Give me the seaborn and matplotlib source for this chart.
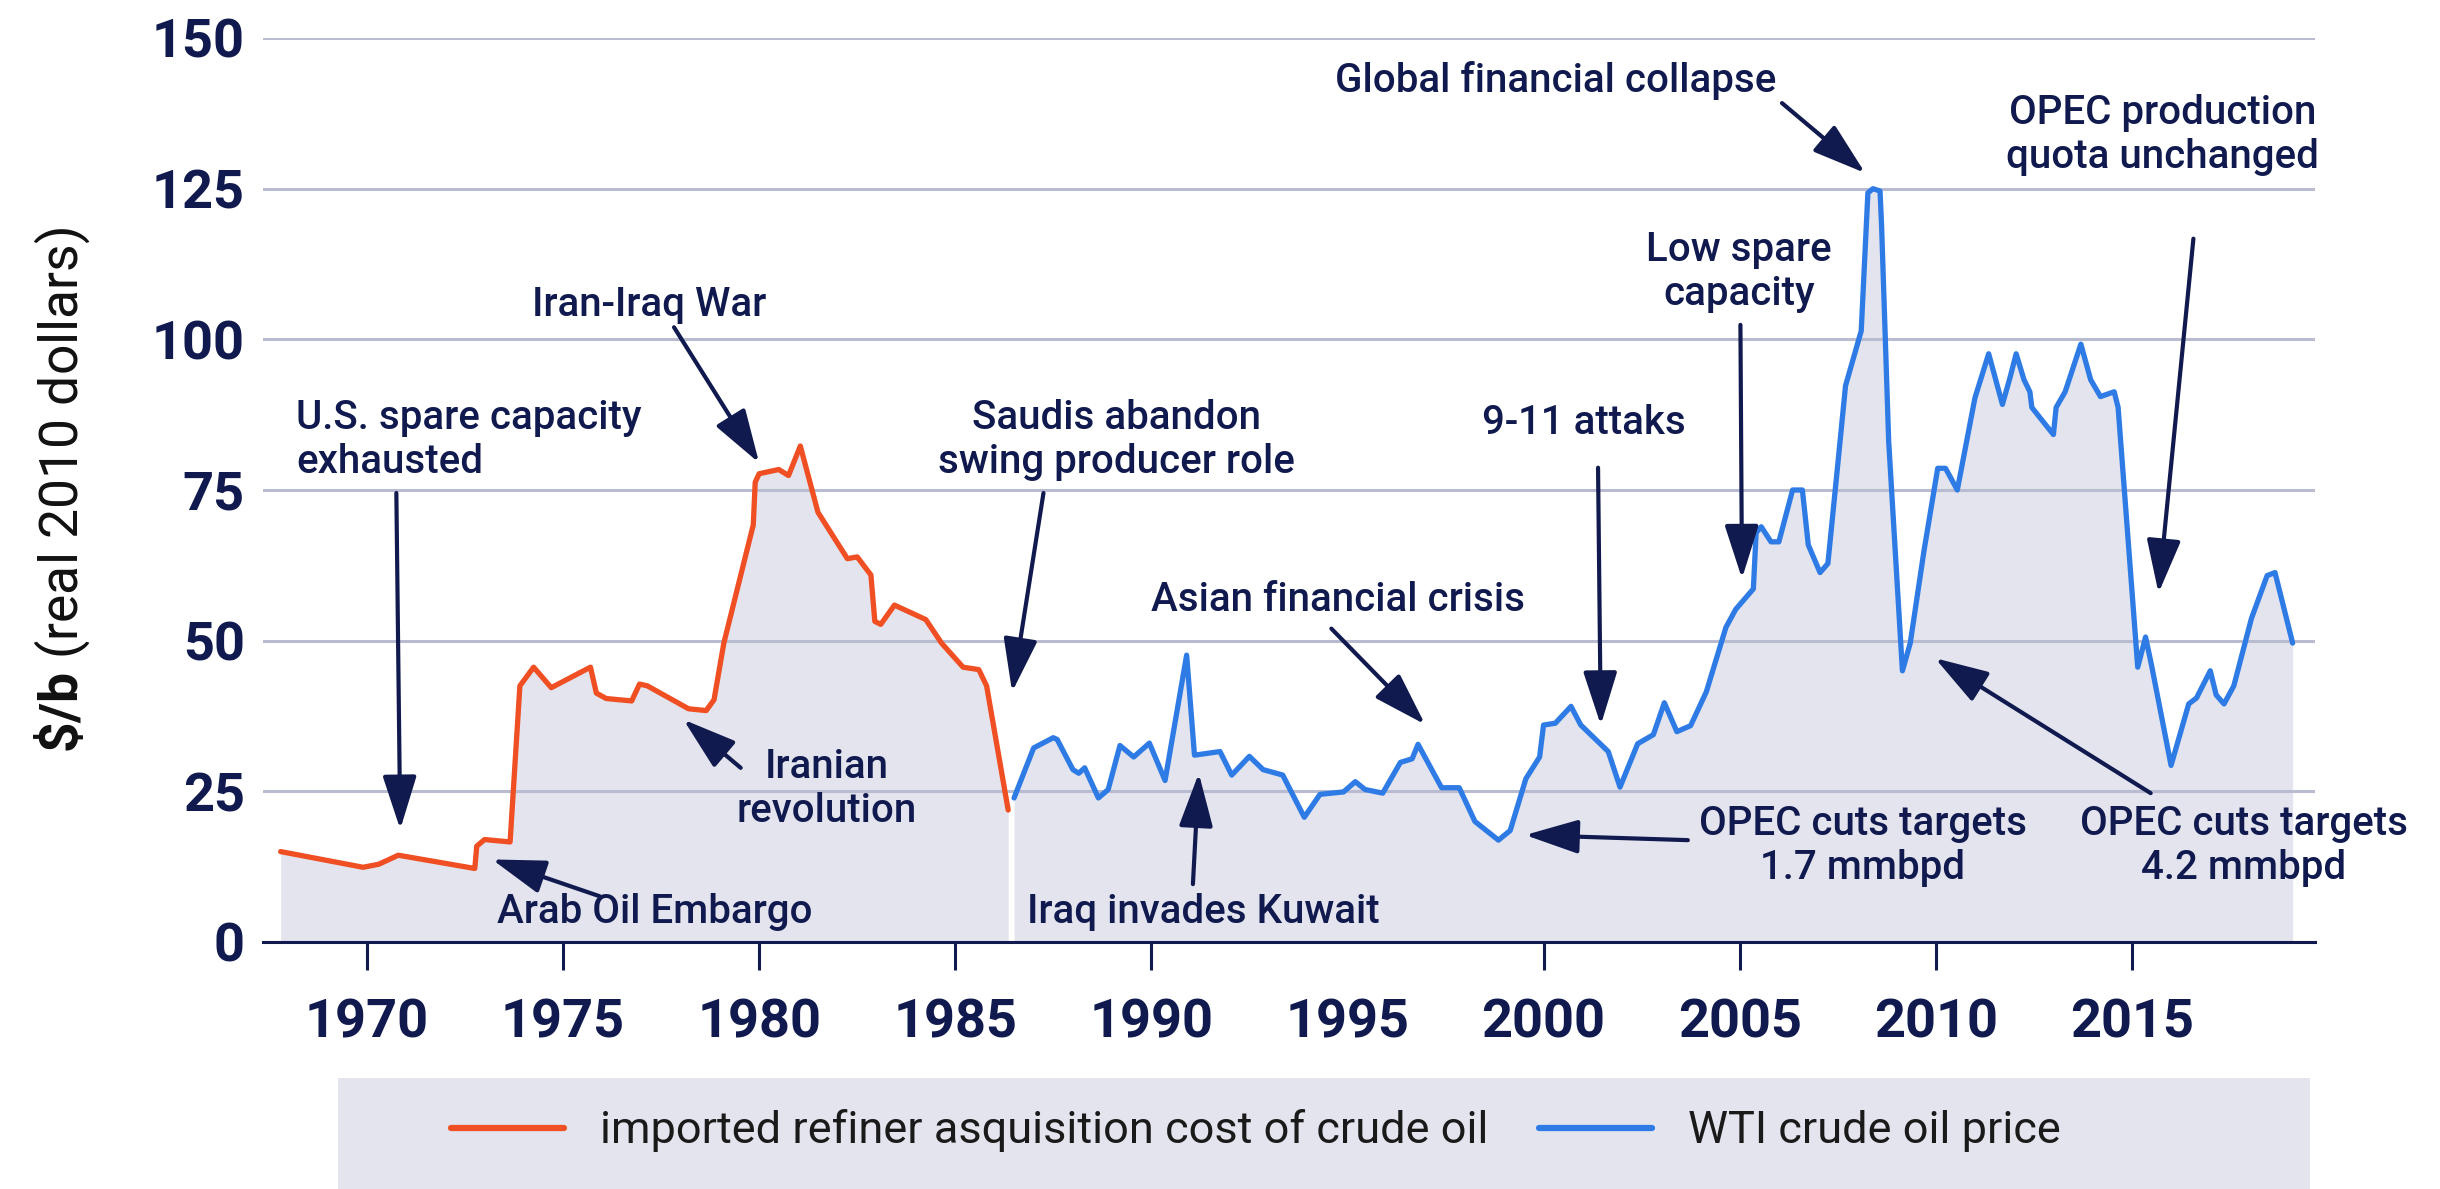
import pandas as pd
import matplotlib.pyplot as plt
import matplotlib.patches as mpatches
import seaborn as sns

# values
orange_years = [1967.8, 1969.9, 1970.3, 1970.8, 1972.75, 1972.8, 1973.0, 1973.65, 1973.9, 1974.25,
                1974.7, 1975.7, 1975.85, 1976.1, 1976.75, 1976.95, 1977.15, 1978.2, 1978.65, 1978.85,
                1979.1, 1979.85, 1979.9, 1980.0, 1980.5, 1980.75, 1981.05, 1981.5, 1982.25, 1982.5,
                1982.85, 1982.95, 1983.1, 1983.45, 1984.25, 1984.65, 1985.2, 1985.6, 1985.8, 1986.35]
orange_vals = [15.0, 12.4, 12.9, 14.4, 12.2, 15.9, 17.0, 16.6, 42.5, 45.6,
               42.2, 45.6, 41.3, 40.4, 40.0, 42.8, 42.5, 38.7, 38.4, 40.2,
               49.6, 69.2, 76.3, 77.7, 78.4, 77.4, 82.3, 71.3, 63.6, 63.9,
               60.9, 53.2, 52.7, 55.9, 53.5, 49.6, 45.6, 45.2, 42.5, 21.9]

wti_years = [1986.5, 1986.8, 1987.0, 1987.5, 1987.6, 1988.0, 1988.15, 1988.3, 1988.65, 1988.9,
             1989.2, 1989.55, 1989.95, 1990.35, 1990.9, 1991.1, 1991.75, 1992.05, 1992.5, 1992.85,
             1993.35, 1993.9, 1994.3, 1994.9, 1995.2, 1995.45, 1995.9, 1996.35, 1996.65, 1996.8,
             1997.4, 1997.85, 1998.25, 1998.85, 1999.15, 1999.55, 1999.9, 2000.0, 2000.3, 2000.7,
             2000.95, 2001.65, 2001.95, 2002.4, 2002.8, 2003.08, 2003.4, 2003.75, 2004.15, 2004.65,
             2004.9, 2005.35, 2005.42, 2005.55, 2005.8, 2006.0, 2006.35, 2006.6, 2006.75, 2007.05,
             2007.25, 2007.5, 2007.7, 2008.1, 2008.27, 2008.4, 2008.58, 2008.62, 2008.8, 2009.15,
             2009.35, 2009.7, 2010.05, 2010.25, 2010.55, 2011.0, 2011.35, 2011.5, 2011.7, 2011.9,
             2012.05, 2012.25, 2012.4, 2012.45, 2013.0, 2013.07, 2013.3, 2013.7, 2013.95, 2014.2,
             2014.55, 2014.65, 2015.15, 2015.35, 2015.5, 2016.0, 2016.45, 2016.65, 2017.0, 2017.15,
             2017.35, 2017.6, 2018.05, 2018.45, 2018.65, 2019.1]
wti_vals = [23.9, 28.9, 32.2, 33.9, 33.6, 28.6, 28.0, 28.9, 23.9, 25.3,
            32.6, 30.7, 33.0, 26.8, 47.6, 31.0, 31.6, 27.7, 30.8, 28.6,
            27.7, 20.7, 24.5, 24.9, 26.6, 25.3, 24.7, 29.8, 30.4, 32.8,
            25.6, 25.6, 20.0, 16.9, 18.5, 27.1, 30.7, 36.0, 36.3, 39.1,
            36.0, 31.6, 25.7, 32.9, 34.4, 39.7, 34.9, 35.9, 41.5, 52.2,
            55.2, 58.6, 67.9, 68.9, 66.4, 66.4, 75.0, 75.0, 65.9, 61.3,
            62.8, 79.1, 92.3, 101.4, 124.3, 125.0, 124.6, 118.7, 83.1, 45.0,
            49.6, 64.9, 78.6, 78.6, 75.0, 90.3, 97.6, 94.0, 89.2, 93.8,
            97.6, 93.3, 91.3, 88.7, 84.2, 88.7, 91.3, 99.2, 93.3, 90.5,
            91.3, 88.7, 45.6, 50.6, 46.0, 29.3, 39.5, 40.5, 45.0, 41.0,
            39.5, 42.5, 53.7, 60.8, 61.3, 49.6]

year_ticks = [1970, 1975, 1980, 1985, 1990, 1995, 2000, 2005, 2010, 2015]
price_ticks = [0, 25, 50, 75, 100, 125, 150]

orange_label = "imported refiner asquisition cost of crude oil"
wti_label = "WTI crude oil price"

NAVY = "#111a4f"
ORANGE = "#f04e23"
BLUE = "#2e7be6"
FILL = "#e3e4ed"
GRID = "#b9bcd0"

sns.set_theme(style="white")
plt.rcParams["font.family"] = ["Roboto", "DejaVu Sans"]
plt.rcParams["mathtext.fontset"] = "custom"
plt.rcParams["mathtext.bf"] = "Roboto:bold"
plt.rcParams["mathtext.rm"] = "Roboto"

W, H = 2440, 1189
fig = plt.figure(figsize=(W / 100, H / 100), dpi=100)
ax = fig.add_axes([263 / W, 1 - 942 / H, (2315 - 263) / W, (942 - 38) / H])

oil = pd.DataFrame({"year": orange_years, "price": orange_vals})
wti = pd.DataFrame({"year": wti_years, "price": wti_vals})

ax.fill_between(oil["year"], oil["price"], color=FILL, lw=0, zorder=0.2)
ax.fill_between(wti["year"], wti["price"], color=FILL, lw=0, zorder=0.2)
sns.lineplot(data=oil, x="year", y="price", ax=ax, color=ORANGE, lw=3.8,
             label=orange_label, estimator=None, sort=False, zorder=3,
             solid_joinstyle="round", solid_capstyle="round")
sns.lineplot(data=wti, x="year", y="price", ax=ax, color=BLUE, lw=3.8,
             label=wti_label, estimator=None, sort=False, zorder=3,
             solid_joinstyle="round", solid_capstyle="round")

ax.set_xlim(1967.35, 2019.67)
ax.set_ylim(0, 150)
ax.set_xticks(year_ticks)
ax.set_yticks(price_ticks)
ax.set_xlabel("")
ax.set_ylabel("")
ax.set_axisbelow(False)
ax.yaxis.grid(True, color=GRID, lw=2.2, zorder=1)
ax.xaxis.grid(False)
for s in ["left", "top", "right"]:
    ax.spines[s].set_visible(False)
ax.spines["bottom"].set_color(NAVY)
ax.spines["bottom"].set_linewidth(2.2)
ax.spines["bottom"].set_zorder(4)

ax.tick_params(axis="x", length=20, width=2.2, color=NAVY, pad=20, labelsize=39, labelcolor=NAVY, bottom=True)
ax.tick_params(axis="y", length=0, pad=13, labelsize=39, labelcolor=NAVY)
for lbl in ax.get_xticklabels() + ax.get_yticklabels():
    lbl.set_fontweight("bold")
ax.xaxis.get_major_ticks()[5].tick1line.set_visible(False)

fig.text(62 / W, 1 - 490 / H, r"$\mathbf{\$/b}$ (real 2010 dollars)", rotation=90,
         ha="center", va="center", fontsize=38.5, color="#111111")

# event notes: text position, arrow tail, arrow head (data units)
notes = [
    ("U.S. spare capacity\nexhausted", (1968.2, 83.3), "left", (1970.75, 74.5), (1970.85, 18.7)),
    ("Iran-Iraq War", (1977.19, 105.7), "center", (1977.83, 102.0), (1980.0, 79.5)),
    ("Saudis abandon\nswing producer role", (1989.12, 83.3), "center", (1987.25, 74.5), (1986.45, 41.5)),
    ("Asian financial crisis", (1994.75, 56.7), "center", (1994.59, 52.0), (1996.98, 36.1)),
    ("9-11 attaks", (2001.02, 86.1), "center", (2001.39, 78.7), (2001.46, 36.0)),
    ("OPEC cuts targets\n1.7 mmbpd", (2008.14, 15.9), "center", (2003.68, 16.9), (1999.53, 17.75)),
    ("Low spare\ncapacity", (2004.99, 111.1), "center", (2005.02, 102.4), (2005.06, 60.3)),
    ("Global financial collapse", (2000.32, 142.9), "center", (2006.08, 139.2), (2008.20, 127.6)),
    ("OPEC production\nquota unchanged", (2015.78, 133.9), "center", (2016.57, 116.7), (2015.68, 57.9)),
    ("OPEC cuts targets\n4.2 mmbpd", (2017.86, 15.9), "center", (2015.48, 24.7), (2009.98, 47.1)),
    ("Iranian\nrevolution", (1981.72, 25.4), "center", (1979.53, 28.9), (1978.07, 36.9)),
    ("Arab Oil Embargo", (1977.34, 4.9), "center", (1975.93, 7.6), (1973.19, 13.7)),
    ("Iraq invades Kuwait", (1991.32, 4.9), "center", (1991.06, 9.6), (1991.21, 28.0)),
]
for text, pos, ha, tail, head in notes:
    ax.text(pos[0], pos[1], text, ha=ha, va="center", multialignment=ha, fontsize=29,
            fontweight="medium", color=NAVY, zorder=5, clip_on=False)
    ax.annotate("", xy=head, xytext=tail, zorder=5,
                arrowprops=dict(arrowstyle="-|>,head_length=1.1,head_width=0.35", color=NAVY,
                                lw=3, mutation_scale=30, shrinkA=0, shrinkB=0))

# legend band at the bottom
handles, labels = ax.get_legend_handles_labels()
ax.get_legend().remove()
fig.patches.append(mpatches.Rectangle((338 / W, 0), (2310 - 338) / W, (H - 1078) / H,
                                      transform=fig.transFigure, facecolor=FILL, edgecolor="none", zorder=0))
leg = fig.legend(handles, labels, loc="center left", bbox_to_anchor=(451 / W, 1 - 1131 / H), ncol=2,
                 frameon=False, fontsize=32.5, handlelength=2.5, handletextpad=0.8, columnspacing=1.13,
                 borderpad=0, borderaxespad=0)
for t in leg.get_texts():
    t.set_color("#1a1a1a")
for ln in leg.get_lines():
    ln.set_linewidth(4.5)

fig.savefig("out.png", dpi=100)
